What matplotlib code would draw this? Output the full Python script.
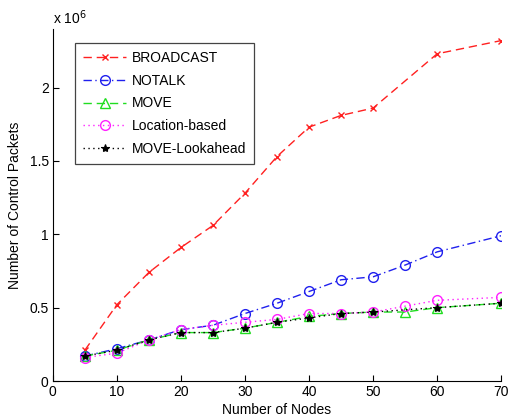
import matplotlib.pyplot as plt

plt.rcParams['font.family'] = ['Liberation Sans', 'DejaVu Sans']

# values in millions of packets
x_bc = [5, 10, 15, 20, 25, 30, 35, 40, 45, 50, 60, 70]
broadcast = [0.21, 0.52, 0.74, 0.91, 1.06, 1.28, 1.53, 1.73, 1.81, 1.86, 2.23, 2.32]

x_all = [5, 10, 15, 20, 25, 30, 35, 40, 45, 50, 55, 60, 70]
notalk = [0.17, 0.22, 0.28, 0.35, 0.38, 0.46, 0.53, 0.61, 0.69, 0.71, 0.79, 0.88, 0.99]
move = [0.17, 0.21, 0.28, 0.33, 0.33, 0.36, 0.40, 0.44, 0.46, 0.47, 0.47, 0.50, 0.53]
locbased = [0.16, 0.19, 0.28, 0.35, 0.38, 0.40, 0.42, 0.46, 0.46, 0.47, 0.51, 0.55, 0.57]

x_la = [5, 10, 15, 20, 25, 30, 35, 40, 45, 50, 60, 70]
lookahead = [0.17, 0.21, 0.28, 0.33, 0.33, 0.36, 0.40, 0.43, 0.46, 0.47, 0.50, 0.53]

fig = plt.figure(figsize=(5.13, 4.18), dpi=100)
ax = fig.add_axes([0.103, 0.0885, 0.874, 0.8425])

ax.plot(x_bc, broadcast, color='#ff2020', dashes=(6, 3.5), marker='x', ms=5, mew=1.0, lw=1.0, label='BROADCAST')
ax.plot(x_all, notalk, color='#2020ee', dashes=(6, 2.5, 1, 2.5), marker='o', ms=7, mfc='none', mew=1.0, lw=1.0, label='NOTALK')
ax.plot(x_all, move, color='#20dd20', dashes=(6, 3.5), marker='^', ms=7, mfc='none', mew=1.0, lw=1.0, label='MOVE')
ax.plot(x_all, locbased, color='#ff20ff', dashes=(1, 2.5), marker='o', ms=7, mfc='none', mew=1.0, lw=1.0, label='Location-based')
ax.plot(x_la, lookahead, color='black', dashes=(1, 2.5), marker='*', ms=6, mew=0.8, lw=1.0, label='MOVE-Lookahead')

ax.set_xlim(0, 70)
ax.set_ylim(0, 2.4)
ax.set_xticks([0, 10, 20, 30, 40, 50, 60, 70])
ax.set_yticks([0, 0.5, 1, 1.5, 2])
ax.set_yticklabels(['0', '0.5', '1', '1.5', '2'])
ax.tick_params(direction='in', labelsize=10, length=4, pad=3)
ax.spines['top'].set_visible(False)
ax.spines['right'].set_visible(False)

ax.set_xlabel('Number of Nodes', fontsize=10, labelpad=3)
ax.set_ylabel('Number of Control Packets', fontsize=10, labelpad=5)
ax.text(0.0, 1.005, r'x 10$^6$', transform=ax.transAxes, fontsize=10, ha='left', va='bottom')

leg = ax.legend(loc='upper left', bbox_to_anchor=(0.049, 0.96), fontsize=10,
                frameon=True, fancybox=False, edgecolor='#444444', framealpha=1,
                handlelength=3.1, handletextpad=0.4, borderpad=0.6, labelspacing=0.62,
                borderaxespad=0)
leg.get_frame().set_linewidth(0.9)

fig.savefig('out.png', dpi=100)
